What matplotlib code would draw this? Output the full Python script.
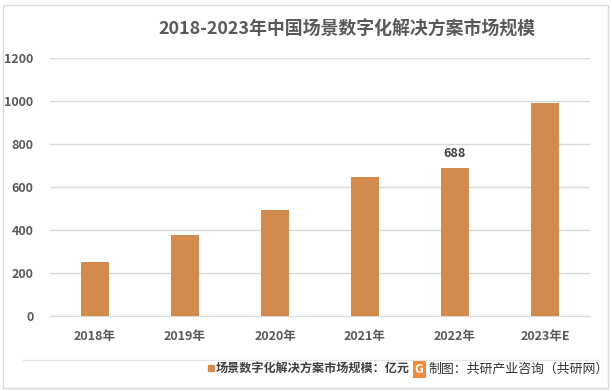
import numpy as np
import matplotlib.pyplot as plt
from matplotlib.patches import Rectangle

plt.rcParams['font.family'] = ['Noto Sans CJK SC', 'DejaVu Sans']

years = ["2018年", "2019年", "2020年", "2021年", "2022年", "2023年E"]
values = [253, 378, 494, 648, 688, 992]
label_idx = 4  # only 2022 is labelled in the original
series_name = "场景数字化解决方案市场规模：亿元"
title = "2018-2023年中国场景数字化解决方案市场规模"
source = "制图：共研产业咨询（共研网）"

bar_color = "#D38B4D"
text_gray = "#595959"

fig = plt.figure(figsize=(6.12, 3.91), dpi=100)
ax = fig.add_axes([0.0817, 0.192, 0.8823, 0.66])

x = np.arange(len(years))
bars = ax.bar(x, values, width=0.31, color=bar_color, zorder=3)
ax.text(x[label_idx], values[label_idx] + 35, str(values[label_idx]),
        ha="center", va="bottom", fontsize=9, fontweight="bold", color="#404040")

ax.set_xlim(-0.5, len(years) - 0.5)
ax.set_ylim(0, 1200)
ax.set_yticks(range(0, 1201, 200))
ax.yaxis.grid(True, color="#D9D9D9", linewidth=1, zorder=0)
ax.set_xticks(x)
ax.set_xticklabels(years, fontsize=9, fontweight="bold", color=text_gray)
for lab in ax.get_yticklabels():
    lab.set_fontsize(9)
    lab.set_fontweight("bold")
    lab.set_color(text_gray)
ax.tick_params(axis="both", length=0, pad=10)
ax.tick_params(axis="y", pad=12)
for s in ax.spines.values():
    s.set_visible(False)
ax.spines["bottom"].set_visible(True)
ax.spines["bottom"].set_color("#D9D9D9")

fig.text(0.567, 0.925, title, ha="center", va="center", fontsize=12.9,
         fontweight="bold", color=text_gray)

# outer frame and separator line
fig.patches.append(Rectangle((0.005, 0.008), 0.988, 0.98, transform=fig.transFigure,
                             fill=False, edgecolor="#D9D9D9", linewidth=1))
fig.lines.append(plt.Line2D([0.038, 0.977], [0.079, 0.079], transform=fig.transFigure,
                            color="#E6E6E6", linewidth=1))

# legend
fig.patches.append(Rectangle((0.340, 0.050), 0.010, 0.016, transform=fig.transFigure,
                             color=bar_color))
fig.text(0.353, 0.057, series_name, ha="left", va="center", fontsize=8.7,
         fontweight="bold", color="#404040")

# source logo and text
fig.text(0.685, 0.055, "G", ha="center", va="center", fontsize=9, fontweight="bold",
         color="white", bbox=dict(boxstyle="square,pad=0.15", fc="#F08A3C", ec="none"))
fig.text(0.700, 0.055, source, ha="left", va="center", fontsize=9.3, color="#333333")

fig.savefig("out.png", dpi=100)
